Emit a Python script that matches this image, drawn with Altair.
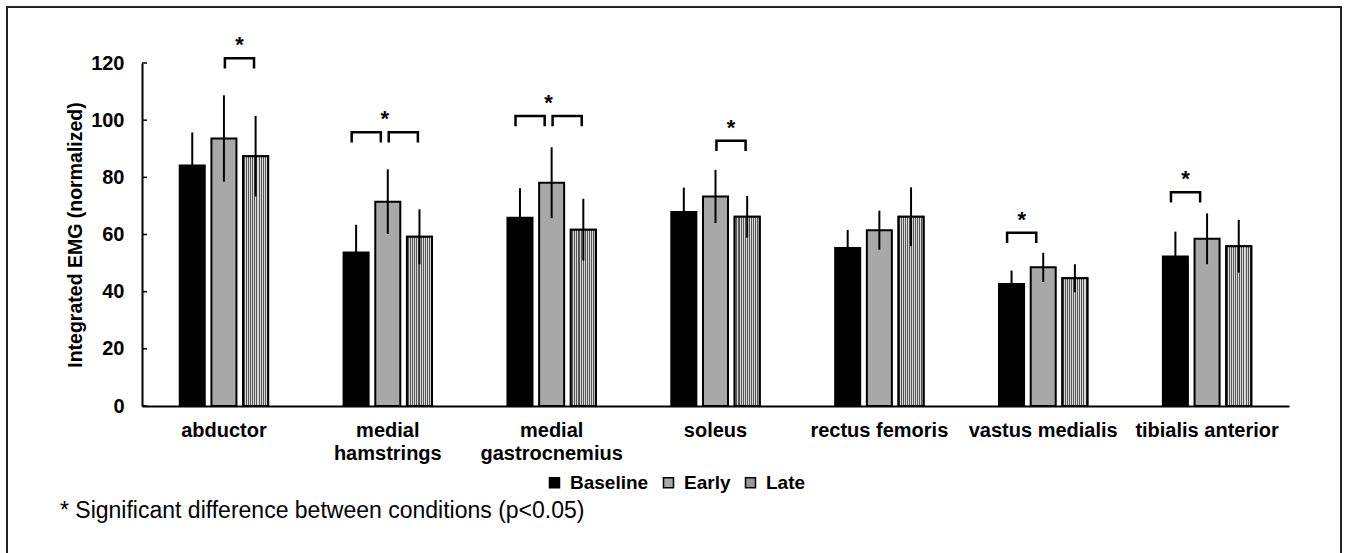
import altair as alt
import pandas as pd

# ---------------- data ----------------
muscles = ["abductor", "medial hamstrings", "medial gastrocnemius", "soleus",
           "rectus femoris", "vastus medialis", "tibialis anterior"]
conditions = ["Baseline", "Early", "Late"]

baseline_mean = [84.1, 53.7, 65.9, 67.9, 55.3, 42.7, 52.3]
baseline_sd = [11.6, 9.7, 10.3, 8.5, 6.3, 4.7, 8.7]
early_mean = [93.6, 71.5, 78.1, 73.3, 61.5, 48.5, 58.5]
early_sd = [15.1, 11.3, 12.4, 9.3, 6.8, 5.1, 8.9]
late_mean = [87.4, 59.2, 61.7, 66.2, 66.2, 44.7, 55.9]
late_sd = [14.1, 9.6, 10.8, 7.3, 10.3, 4.9, 9.2]

# significant comparisons (brackets)
sig_muscle = ["abductor", "medial hamstrings", "medial hamstrings",
              "medial gastrocnemius", "medial gastrocnemius", "soleus",
              "vastus medialis", "tibialis anterior"]
sig_from = ["Early", "Baseline", "Early", "Baseline", "Early", "Early", "Baseline", "Baseline"]
sig_to = ["Late", "Early", "Late", "Early", "Late", "Late", "Early", "Early"]
# bracket height (data units) per muscle with a significance mark
star_muscles = ["abductor", "medial hamstrings", "medial gastrocnemius", "soleus",
                "vastus medialis", "tibialis anterior"]
star_levels = [121.7, 95.8, 101.5, 92.8, 60.6, 74.8]

y_ticks = [0, 20, 40, 60, 80, 100, 120]
y_title = "Integrated EMG (normalized)"
footnote_text = "* Significant difference between conditions (p<0.05)"

# ---------------- tables ----------------
rows = []
for cond, means, sds in zip(conditions, [baseline_mean, early_mean, late_mean],
                            [baseline_sd, early_sd, late_sd]):
    for m, v, s in zip(muscles, means, sds):
        rows.append({"muscle": m, "cond": cond, "mean": v, "lo": v - s, "hi": v + s})
bars_df = pd.DataFrame(rows)

level_of = dict(zip(star_muscles, star_levels))
LEG = 3.6
br_rows = []
span = {}
for i, (m, a, b) in enumerate(zip(sig_muscle, sig_from, sig_to)):
    s = conditions.index(a) - 1 + (0.03 if a == "Early" else -0.14)
    e = s + 0.92
    lv = level_of[m]
    for k, (p, yy) in enumerate([(s, lv - LEG), (s, lv), (e, lv), (e, lv - LEG)]):
        br_rows.append({"muscle": m, "bid": i, "ord": k, "pos": p, "yy": yy})
    lo_, hi_ = span.get(m, (s, e))
    span[m] = (min(lo_, s), max(hi_, e))
br_df = pd.DataFrame(br_rows)
star_df = pd.DataFrame({
    "muscle": star_muscles,
    "level": star_levels,
    "pos": [(span[m][0] + span[m][1]) / 2 for m in star_muscles],
})
tick_df = pd.DataFrame({"t": y_ticks})
one = pd.DataFrame({"a": [0]})

# ---------------- layout ----------------
F = "Liberation Sans"
W, H = 1147, 343
PI = 0.42
BW = W / len(muscles) * (1 - PI)

x_enc = alt.X(
    "muscle:N", sort=muscles,
    scale=alt.Scale(domain=muscles, paddingInner=PI, paddingOuter=PI / 2),
    axis=alt.Axis(title=None, labelAngle=0, ticks=False, labelPadding=14,
                  labelFont=F, labelFontSize=20, labelFontWeight="bold",
                  labelColor="black", domainColor="black", domainWidth=2,
                  labelLineHeight=23, labelBaseline="top",
                  labelExpr="indexof(datum.label, 'medial ') == 0 ? split(datum.label, ' ') : datum.label"),
)
xo_nom = alt.XOffset("cond:N", sort=conditions,
                     scale=alt.Scale(domain=conditions, paddingInner=0.21, paddingOuter=0.105))
xo_q = alt.XOffset("pos:Q", scale=alt.Scale(domain=[-1.5, 1.5], range=[0, BW]))

y_scale = alt.Scale(domain=[0, 120], nice=False)
y_axis = alt.Axis(title=y_title, values=y_ticks, ticks=False,
                  grid=False, labelFont=F, labelFontSize=20, labelFontWeight="bold",
                  labelColor="black", labelPadding=18, domainColor="black",
                  domainWidth=2, titleFont=F, titleFontSize=19.5,
                  titleFontWeight="bold", titleColor="black",
                  titleX=-67, titleY=H / 2, titleBaseline="middle",
                  titleAlign="center", titleAngle=-90)


def yq(field):
    return alt.Y(field, type="quantitative", scale=y_scale, axis=y_axis, title=y_title)


# fine hatch texture for the "Late" bars
N_STRIPES = 13
stops = []
for i in range(N_STRIPES):
    a0, am, a1 = i / N_STRIPES, (i + 0.5) / N_STRIPES, (i + 1) / N_STRIPES
    stops += [alt.GradientStop(offset=a0, color="#dadada"),
              alt.GradientStop(offset=am, color="#dadada"),
              alt.GradientStop(offset=am, color="#555555"),
              alt.GradientStop(offset=a1, color="#555555")]
hatch = alt.LinearGradient(gradient="linear", stops=stops, x1=0, x2=1, y1=0, y2=0)

bars = alt.Chart(bars_df).mark_bar(stroke="black", strokeWidth=2).encode(
    x=x_enc, xOffset=xo_nom,
    y=yq("mean"),
    color=alt.Color("cond:N", sort=conditions,
                    scale=alt.Scale(domain=conditions, range=["#000000", "#a8a8a8", "#979797"]),
                    legend=alt.Legend(title=None, orient="none", legendX=403, legendY=410,
                                      direction="horizontal", symbolType="square",
                                      symbolSize=100, symbolStrokeColor="black",
                                      symbolStrokeWidth=1.5, labelFont=F, labelFontSize=19,
                                      labelFontWeight="bold", labelColor="black",
                                      labelOffset=6, columnPadding=10, padding=0)),
)

late_tex = alt.Chart(bars_df).transform_filter(alt.datum.cond == "Late").mark_bar(
    stroke="black", strokeWidth=2, fill=hatch
).encode(
    x=x_enc, xOffset=xo_nom,
    y=yq("mean"),
)

err = alt.Chart(bars_df).mark_rule(color="black", strokeWidth=2).encode(
    x=x_enc, xOffset=xo_nom,
    y=yq("lo"), y2="hi:Q",
)

brackets = alt.Chart(br_df).mark_line(color="black", strokeWidth=2.5, strokeJoin="miter").encode(
    x=x_enc, xOffset=xo_q,
    y=yq("yy"),
    detail="bid:N", order="ord:Q",
)

stars = alt.Chart(star_df).mark_text(text="*", font=F, fontSize=22, fontWeight="bold",
                                     color="black", baseline="alphabetic", dy=-6).encode(
    x=x_enc, xOffset=xo_q,
    y=yq("level"),
)

yticks = alt.Chart(tick_df).mark_rule(color="black", strokeWidth=1.5).encode(
    y=yq("t"), x=alt.value(0), x2=alt.value(5),
)

footnote = alt.Chart(one).mark_text(text=footnote_text, font=F, fontSize=23, color="black",
                                    align="left", baseline="alphabetic").encode(
    x=alt.value(-82), y=alt.value(455),
)

frame = alt.Chart(one).mark_rect(fillOpacity=0, stroke="#222222", strokeWidth=2).encode(
    x=alt.value(-135), x2=alt.value(1199), y=alt.value(-56), y2=alt.value(500),
)

chart = alt.layer(bars, late_tex, err, yticks, brackets, stars, footnote, frame).resolve_scale(
    xOffset="independent"
).properties(
    width=W, height=H,
    autosize=alt.AutoSizeParams(type="none"),
    padding={"left": 142, "top": 63, "right": 60, "bottom": 147},
    background="white",
).configure_view(strokeWidth=0)

chart.save("out.html", embed_options={"renderer": "svg", "actions": False})
